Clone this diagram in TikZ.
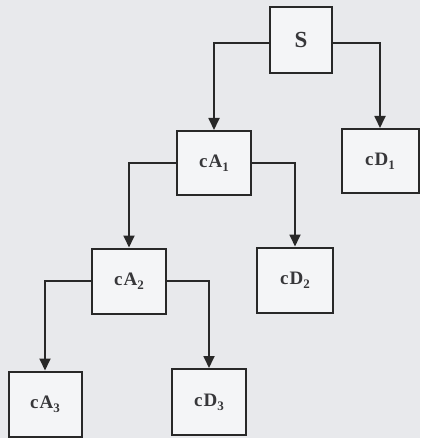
\documentclass[tikz,border=0pt]{standalone}
\usepackage{fontspec}
\setmainfont{Liberation Serif}
\newfontfamily\labfont[LetterSpace=5]{Liberation Serif}
\newcommand\lsub[1]{\raisebox{-0.45ex}{\fontsize{13}{13}\selectfont #1}}
\usetikzlibrary{arrows.meta}
\definecolor{scanbg}{RGB}{232,233,236}
\definecolor{boxfill}{RGB}{244,245,247}
\definecolor{inkline}{RGB}{40,40,40}
\definecolor{inktext}{RGB}{55,55,58}
\tikzset{
  blk/.style={draw=inkline, line width=2pt, fill=boxfill, inner sep=0pt,
    font=\labfont\bfseries\fontsize{19}{20}\selectfont, text=inktext},
  link/.style={draw=inkline, line width=1.8pt, -{Triangle[length=12pt,width=11pt]}}
}
\begin{document}
\begin{tikzpicture}[x=1pt,y=-1pt]
\fill[scanbg] (0,0) rectangle (420,438);
\useasboundingbox (0,0) rectangle (420,438);
\node[blk, minimum width=62pt, minimum height=66pt, font=\labfont\bfseries\fontsize{23}{24}\selectfont] (S) at (301,40) {S};
\node[blk, minimum width=77pt, minimum height=64pt] (cD1) at (380,161) {cD\lsub{1}};
\node[blk, minimum width=74pt, minimum height=64pt] (cA1) at (214,163) {cA\lsub{1}};
\node[blk, minimum width=74pt, minimum height=65pt] (cA2) at (129,281) {cA\lsub{2}};
\node[blk, minimum width=76pt, minimum height=65pt] (cD2) at (295,280) {cD\lsub{2}};
\node[blk, minimum width=73pt, minimum height=65pt] (cA3) at (45,404) {cA\lsub{3}};
\node[blk, minimum width=74pt, minimum height=66pt] (cD3) at (209,402) {cD\lsub{3}};
\draw[link] ([yshift=-3pt]S.west) -| (cA1.north);
\draw[link] ([yshift=-3pt]S.east) -| (cD1.north);
\draw[link] (cA1.west) -| (cA2.north);
\draw[link] (cA1.east) -| (cD2.north);
\draw[link] (cA2.west) -| (cA3.north);
\draw[link] (cA2.east) -| (cD3.north);
\end{tikzpicture}
\end{document}
